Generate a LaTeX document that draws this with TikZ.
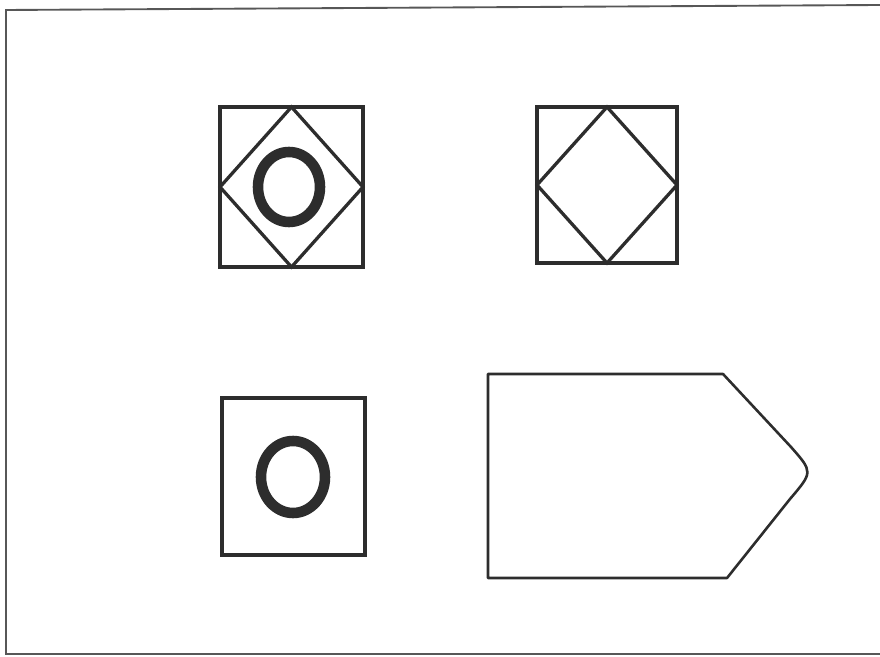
\documentclass[tikz,border=0pt]{standalone}
\usetikzlibrary{positioning}
\definecolor{ink}{RGB}{45,45,45}
\tikzset{
  box/.style={draw=ink,line width=3.2pt,outer sep=0pt,inner sep=0pt},
  rhomb/.style={draw=ink,line width=2.8pt,line join=miter},
  ring/.style={draw=ink,line width=9pt},
  tag/.style={draw=ink,line width=2.2pt,line join=round},
  frame/.style={draw=ink!80,line width=1.6pt}
}
\begin{document}
\begin{tikzpicture}[x=0.03cm,y=-0.03cm]
\useasboundingbox (0,0) rectangle (880,657);
% outer frame, open on the right
\draw[frame] (880,5) -- (6,10) -- (6,654) -- (880,654);
% upper row
\node[box,minimum width=4.29cm,minimum height=4.8cm] (sqA) at (291.5,187) {};
\node[box,minimum width=4.2cm,minimum height=4.68cm] (sqB) at (607,185) {};
\draw[rhomb] (sqA.north) -- (sqA.east) -- (sqA.south) -- (sqA.west) -- cycle;
\draw[rhomb] (sqB.north) -- (sqB.east) -- (sqB.south) -- (sqB.west) -- cycle;
\draw[ring] (289,187) ellipse [x radius=31,y radius=35];
% lower row
\node[box,minimum width=4.29cm,minimum height=4.71cm] (sqC) at (293.5,476.5) {};
\draw[ring] (293,477) ellipse [x radius=32,y radius=36];
\coordinate (tip) at (813,472);
\draw[tag] (488,374) -- (723,374) -- (791,447) .. controls (tip) .. (790,499)
  -- (727,578) -- (488,578) -- cycle;
\end{tikzpicture}
\end{document}
